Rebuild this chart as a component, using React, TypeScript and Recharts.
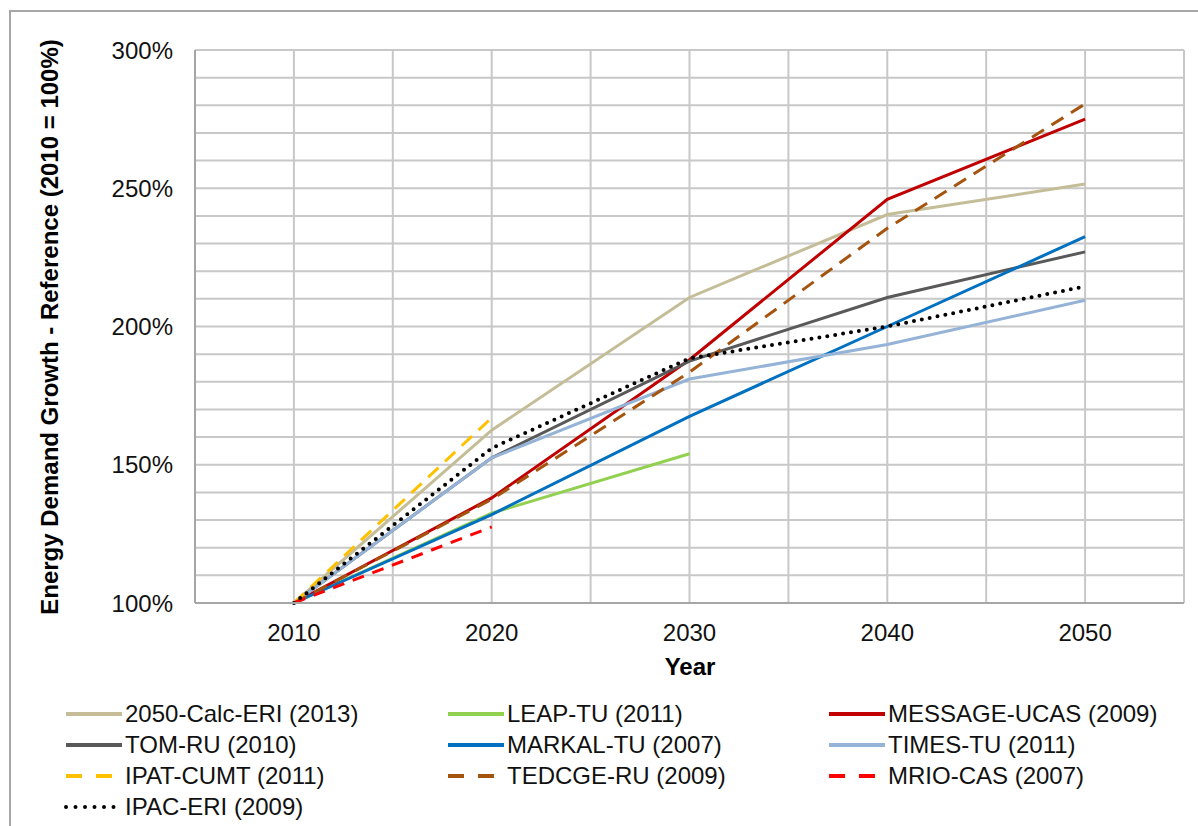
import React from 'react'
import { LineChart, Line, XAxis, YAxis, CartesianGrid, Legend } from 'recharts'

const years = [2010, 2020, 2030, 2040, 2050]

const calcEri = [100, 162.5, 210.5, 240.5, 251.5]
const leapTu = [100, 132.5, 154, null, null]
const messageUcas = [100, 138, 188, 246, 275]
const tomRu = [100, 152.5, 187.5, 210.5, 227]
const markalTu = [100, 132, 167.5, 200, 232.5]
const timesTu = [100, 152.5, 181, 193.5, 209.5]
const ipatCumt = [100, 167, null, null, null]
const tedcgeRu = [100, 137.5, 183.5, 235.5, 280.5]
const mrioCas = [100, 127.5, null, null, null]
const ipacEri = [100, 156, 188.5, 200, 214.5]

const xTicks = [2005, 2010, 2015, 2020, 2025, 2030, 2035, 2040, 2045, 2050, 2055]
const yTicks = [100, 110, 120, 130, 140, 150, 160, 170, 180, 190, 200, 210, 220, 230, 240, 250, 260, 270, 280, 290, 300]

type Series = {
  key: string
  name: string
  values: (number | null)[]
  color: string
  dash?: string
  dotted?: boolean
}

const series: Series[] = [
  { key: 'calc', name: '2050-Calc-ERI (2013)', values: calcEri, color: '#C4BD97' },
  { key: 'leap', name: 'LEAP-TU (2011)', values: leapTu, color: '#92D050' },
  { key: 'message', name: 'MESSAGE-UCAS (2009)', values: messageUcas, color: '#C00000' },
  { key: 'tom', name: 'TOM-RU (2010)', values: tomRu, color: '#595959' },
  { key: 'markal', name: 'MARKAL-TU (2007)', values: markalTu, color: '#0070C0' },
  { key: 'times', name: 'TIMES-TU (2011)', values: timesTu, color: '#95B3D7' },
  { key: 'ipat', name: 'IPAT-CUMT (2011)', values: ipatCumt, color: '#FFC000', dash: '14 9' },
  { key: 'tedcge', name: 'TEDCGE-RU (2009)', values: tedcgeRu, color: '#A5540F', dash: '14 9' },
  { key: 'mrio', name: 'MRIO-CAS (2007)', values: mrioCas, color: '#FF0000', dash: '12 9' },
  { key: 'ipac', name: 'IPAC-ERI (2009)', values: ipacEri, color: '#000000', dotted: true },
]

const data = years.map((year, i) => {
  const row: Record<string, number | null> = { year }
  series.forEach((s) => {
    row[s.key] = s.values[i]
  })
  return row
})

const FONT = '"Liberation Sans", Arial, sans-serif'
const FS = 24
const legendCols = [66, 448, 829]
const LEGEND_TOP = 696

function ChartLegend() {
  return (
    <svg width={1198} height={130} style={{ display: 'block' }}>
      {series.map((s, i) => {
        const x = legendCols[i % 3]
        const y = 18 + Math.floor(i / 3) * 31
        return (
          <g key={s.key}>
            <line
              x1={x}
              x2={x + 56}
              y1={y}
              y2={y}
              stroke={s.color}
              strokeWidth={s.dotted ? 4 : 4}
              strokeDasharray={s.dotted ? '0 9.5' : s.dash ? '16 14' : undefined}
              strokeLinecap={s.dotted ? 'round' : 'butt'}
            />
            <text x={x + 59} y={y + 8} fontSize={FS} fontFamily={FONT} fill="#111">
              {s.name}
            </text>
          </g>
        )
      })}
    </svg>
  )
}

export default function App() {
  return (
    <div style={{ position: 'absolute', left: 0, top: 0, width: 1198, height: 826, background: '#fff', overflow: 'hidden' }}>
      <div
        style={{
          position: 'absolute',
          left: 9,
          top: 10,
          width: 1200,
          height: 830,
          border: '2px solid #A6A6A6',
        }}
      />
      <LineChart width={1198} height={826} data={data} margin={{ top: 50, right: 14, left: 0, bottom: 0 }}>
        <CartesianGrid stroke="#C8C8C8" strokeWidth={2} />
        <XAxis
          dataKey="year"
          type="number"
          domain={[2005, 2055]}
          ticks={xTicks}
          interval={0}
          height={223}
          tickSize={0}
          tickMargin={21}
          axisLine={{ stroke: '#A6A6A6', strokeWidth: 2 }}
          tickLine={false}
          tick={{ fontSize: FS, fontFamily: FONT, fill: '#111' }}
          tickFormatter={(v: number) => (v % 10 === 0 && v >= 2010 && v <= 2050 ? String(v) : '')}
          label={{
            content: () => (
              <text x={690} y={675} textAnchor="middle" fontSize={FS} fontWeight="bold" fontFamily={FONT} fill="#000">
                Year
              </text>
            ),
          }}
        />
        <YAxis
          type="number"
          domain={[100, 300]}
          ticks={yTicks}
          interval={0}
          width={195}
          tickSize={0}
          tickMargin={22}
          axisLine={{ stroke: '#A6A6A6', strokeWidth: 2 }}
          tickLine={false}
          tick={{ fontSize: FS, fontFamily: FONT, fill: '#111' }}
          tickFormatter={(v: number) => (v % 50 === 0 ? `${v}%` : '')}
          label={{
            content: () => (
              <text
                x={58}
                y={327}
                transform="rotate(-90 58 327)"
                textAnchor="middle"
                fontSize={FS}
                fontWeight="bold"
                fontFamily={FONT}
                fill="#000"
              >
                Energy Demand Growth - Reference (2010 = 100%)
              </text>
            ),
          }}
        />
        <Legend
          layout="horizontal"
          verticalAlign="middle"
          align="center"
          wrapperStyle={{ top: LEGEND_TOP, left: 0, width: 1198, height: 130, margin: 0 }}
          content={() => <ChartLegend />}
        />
        {series.map((s) => (
          <Line
            key={s.key}
            dataKey={s.key}
            name={s.name}
            stroke={s.color}
            strokeWidth={s.dotted ? 4 : 3}
            strokeDasharray={s.dotted ? '0 8' : s.dash}
            strokeLinecap={s.dotted ? 'round' : 'butt'}
            dot={false}
            activeDot={false}
            type="linear"
            connectNulls={false}
            isAnimationActive={false}
          />
        ))}
      </LineChart>
    </div>
  )
}
